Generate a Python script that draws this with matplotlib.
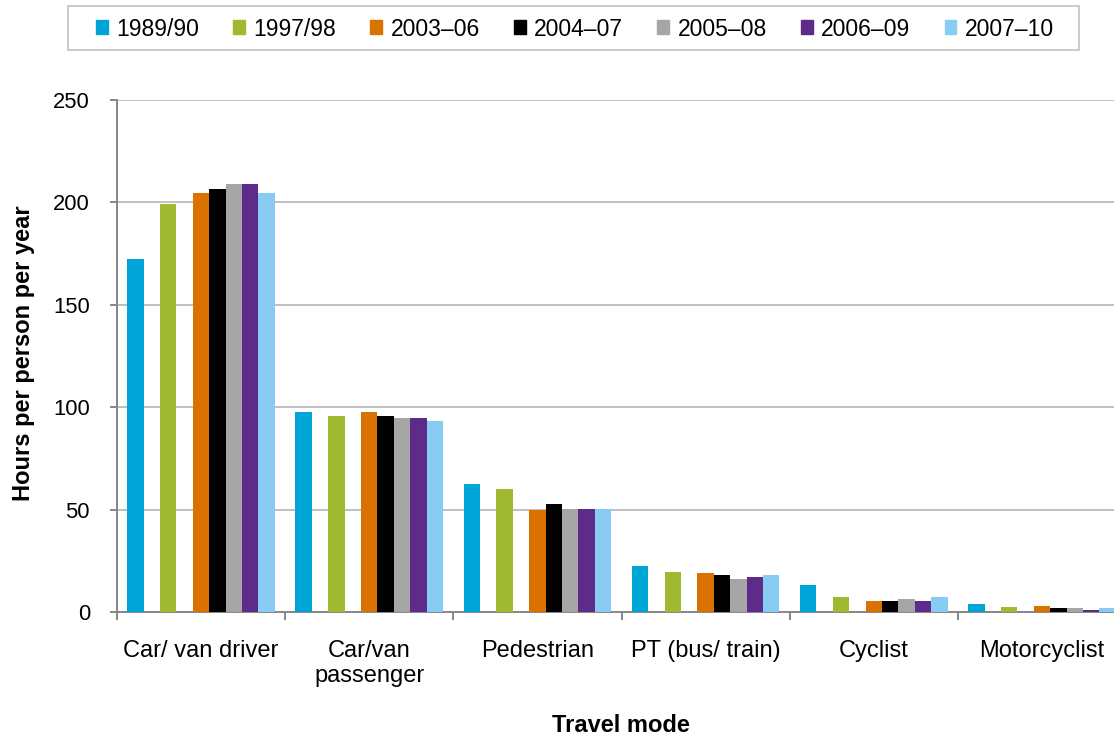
#!/usr/bin/env python

import numpy as np
import matplotlib
matplotlib.use('Agg')
import matplotlib.pyplot as plt
from matplotlib import rcParams
from matplotlib.patches import Patch, Rectangle


#hours per person per year by travel mode, one list per survey period
modes = ['Car/ van driver', 'Car/van\npassenger', 'Pedestrian', 'PT (bus/ train)', 'Cyclist', 'Motorcyclist']
periods = ['1989/90', '1997/98', '2003\u201306', '2004\u201307', '2005\u201308', '2006\u201309', '2007\u201310']

h_1989 = [172.5, 97.5, 62.5, 22.5, 13.0, 4.0]
h_1997 = [199.0, 95.5, 60.0, 19.5, 7.5, 2.5]
h_2003 = [204.5, 97.5, 50.0, 19.0, 5.5, 3.0]
h_2004 = [206.5, 95.5, 52.5, 18.0, 5.5, 2.0]
h_2005 = [209.0, 94.5, 50.5, 16.0, 6.5, 2.0]
h_2006 = [209.0, 94.5, 50.5, 17.0, 5.5, 1.0]
h_2007 = [204.5, 93.5, 50.5, 18.0, 7.5, 2.0]

series = [h_1989, h_1997, h_2003, h_2004, h_2005, h_2006, h_2007]
colors = ['#00A5D8', '#9FBA31', '#D97200', '#000000', '#A6A6A6', '#5F2B8A', '#89CCF3']

rcParams['font.family'] = ['Liberation Sans', 'DejaVu Sans']
rcParams['font.size'] = 15.8

fig = plt.figure(figsize=(11.14, 7.38), dpi=100)
#axes run a little past the right edge, so the last category gets cut off
ax = fig.add_axes([117/1114, 1 - 612/738, 1009/1114, 512/738])

#nine slots per category; the first two periods leave an empty slot after them
slot = 0.0975
edge = (1 - 9*slot)/2
slots = [0, 2, 4, 5, 6, 7, 8]
x = np.arange(len(modes))
for vals, k, c, lab in zip(series, slots, colors, periods):
    ax.bar(x - 0.5 + edge + (k + 0.5)*slot, vals, width=slot, color=c, label=lab, zorder=3)

ax.set_xlim(-0.5, len(modes) - 0.5)
ax.set_ylim(0, 250)
ax.set_yticks(np.arange(0, 251, 50))
ax.grid(axis='y', color='#BFBFBF', linewidth=1.4, zorder=0)

#category boundaries get the tick marks, centres get the labels
ax.set_xticks(np.arange(-0.5, len(modes)), labels=[])
ax.set_xticks(x, labels=modes, minor=True, fontsize=17)
ax.tick_params(axis='x', which='major', length=5.5, width=1.4, color='#868686')
ax.tick_params(axis='x', which='minor', length=0, pad=20)
ax.tick_params(axis='y', length=5, width=1.4, color='#868686', pad=14.4)

for s in ['top', 'right']:
    ax.spines[s].set_visible(False)
for s in ['left', 'bottom']:
    ax.spines[s].set_color('#868686')
    ax.spines[s].set_linewidth(1.4)

ax.set_xlabel('Travel mode', fontweight='bold', fontsize=17)
ax.xaxis.set_label_coords((621 - 117)/1009, -(737 - 612)/512)
ax.xaxis.label.set_va('bottom')
ax.set_ylabel('Hours per person per year', fontweight='bold', fontsize=17)
ax.yaxis.set_label_coords(-(117 - 35)/1009, 0.505)

#legend spread across the top, with a separate grey frame round it
handles = [Patch(color=c) for c in colors]
fig.legend(handles, periods, loc='center', ncol=7, mode='expand', frameon=False,
           bbox_to_anchor=(96/1114, 1 - 51/738, (1054 - 96)/1114, 44/738),
           borderaxespad=0, borderpad=0, handlelength=0.51, handleheight=0.57,
           handletextpad=0.37, fontsize=16.5)
fig.add_artist(Rectangle((67.5/1114, 1 - 50/738), 1011/1114, 44/738, transform=fig.transFigure,
                         facecolor='none', edgecolor='#C0C0C0', linewidth=1.2))

fig.savefig('out.png', dpi=100)
